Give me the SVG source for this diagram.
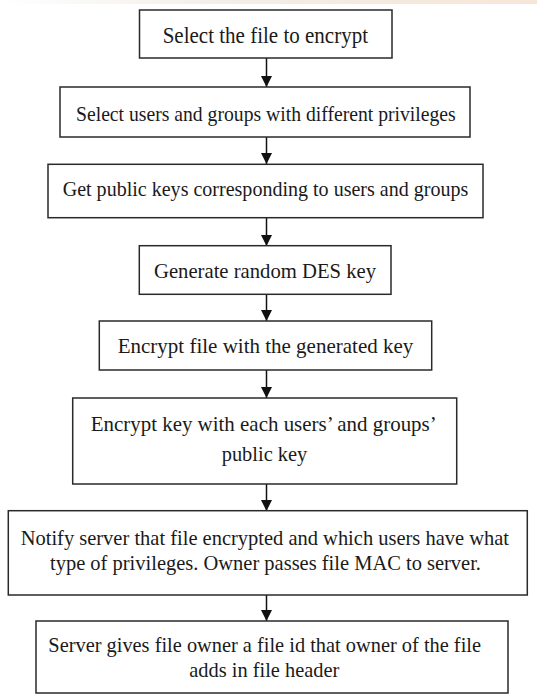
<svg xmlns="http://www.w3.org/2000/svg" width="537" height="694" viewBox="0 0 537 694">
<style>
.box{fill:#fff;stroke:#2a2a2a;stroke-width:1.5}
.t{font-family:"Liberation Serif","Times New Roman",serif;font-size:22px;fill:#1a1a1a}
.c{stroke:#111;stroke-width:1.5;fill:none}
</style>
<defs>
<marker id="ah" markerWidth="11" markerHeight="11" refX="11" refY="5.5" orient="auto" markerUnits="userSpaceOnUse" viewBox="0 0 11 11">
<path d="M0,0 L11,5.5 L0,11 Z" fill="#111"/>
</marker>
<linearGradient id="band" x1="0" y1="0" x2="1" y2="0">
<stop offset="0" stop-color="#ffffff"/>
<stop offset="0.4" stop-color="#f3eee8"/>
<stop offset="1" stop-color="#f7e6d6"/>
</linearGradient>
</defs>
<rect x="0" y="0" width="537" height="694" fill="#fff"/>
<rect x="0" y="0" width="537" height="4" fill="url(#band)"/>
<g id="connectors">
<line class="c" x1="266.5" y1="58" x2="266.5" y2="87" marker-end="url(#ah)"/>
<line class="c" x1="266.5" y1="137" x2="266.5" y2="164" marker-end="url(#ah)"/>
<line class="c" x1="266.5" y1="218" x2="266.5" y2="246" marker-end="url(#ah)"/>
<line class="c" x1="266.5" y1="294" x2="266.5" y2="321" marker-end="url(#ah)"/>
<line class="c" x1="266.5" y1="370" x2="266.5" y2="398" marker-end="url(#ah)"/>
<line class="c" x1="266.5" y1="484" x2="266.5" y2="511" marker-end="url(#ah)"/>
<line class="c" x1="266.5" y1="595" x2="266.5" y2="621" marker-end="url(#ah)"/>
</g>
<g id="n1">
<rect class="box" x="139.5" y="10" width="252.5" height="48"/>
<text class="t" x="162.7" y="42.7" textLength="205.3" lengthAdjust="spacingAndGlyphs" style="font-size:24px">Select the file to encrypt</text>
</g>
<g id="n2">
<rect class="box" x="60" y="87" width="410" height="50"/>
<text class="t" x="76" y="120.5" textLength="379.7" lengthAdjust="spacingAndGlyphs">Select users and groups with different privileges</text>
</g>
<g id="n3">
<rect class="box" x="48" y="164.3" width="435" height="53.4"/>
<text class="t" x="62.7" y="196.3" textLength="405.6" lengthAdjust="spacingAndGlyphs">Get public keys corresponding to users and groups</text>
</g>
<g id="n4">
<rect class="box" x="139.3" y="245.7" width="251.7" height="48.6"/>
<text class="t" x="154" y="278.3" textLength="222" lengthAdjust="spacingAndGlyphs">Generate random DES key</text>
</g>
<g id="n5">
<rect class="box" x="99.3" y="321" width="332.4" height="49"/>
<text class="t" x="117.7" y="353.3" textLength="295.6" lengthAdjust="spacingAndGlyphs">Encrypt file with the generated key</text>
</g>
<g id="n6">
<rect class="box" x="72.7" y="398" width="384" height="86"/>
<text class="t" x="90.7" y="430.7" textLength="346" lengthAdjust="spacingAndGlyphs">Encrypt key with each users’ and groups’</text>
<text class="t" x="221.7" y="460.7" textLength="85.6" lengthAdjust="spacingAndGlyphs">public key</text>
</g>
<g id="n7">
<rect class="box" x="8.3" y="510.7" width="519" height="84.3"/>
<text class="t" x="20.7" y="545" textLength="488.3" lengthAdjust="spacingAndGlyphs" style="font-size:21px">Notify server that file encrypted and which users have what</text>
<text class="t" x="50" y="570" textLength="431" lengthAdjust="spacingAndGlyphs">type of privileges. Owner passes file MAC to server.</text>
</g>
<g id="n8">
<rect class="box" x="36" y="621" width="472" height="72"/>
<text class="t" x="48.3" y="651.7" textLength="432.7" lengthAdjust="spacingAndGlyphs">Server gives file owner a file id that owner of the file</text>
<text class="t" x="189.3" y="676.7" textLength="150" lengthAdjust="spacingAndGlyphs">adds in file header</text>
</g>
</svg>
